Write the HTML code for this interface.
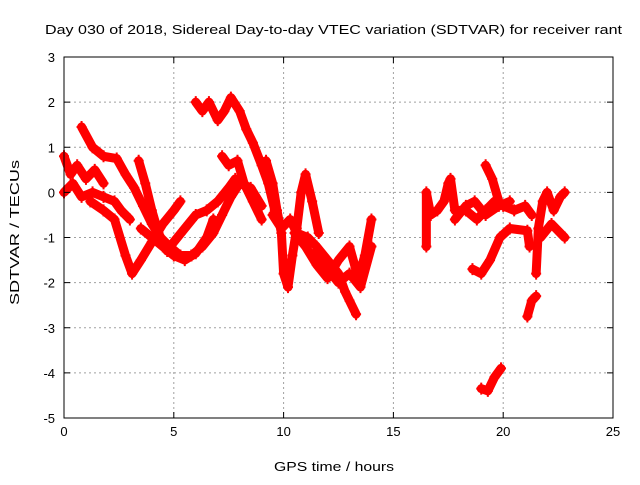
<!DOCTYPE html>
<html><head><meta charset="utf-8"><style>
body{margin:0;background:#fff}
svg text{font-family:"Liberation Sans",sans-serif;font-size:13px}
</style></head><body>
<svg id="chart" width="640" height="480" xmlns="http://www.w3.org/2000/svg">
<text x="45" y="34" font-size="15" textLength="577" lengthAdjust="spacingAndGlyphs">Day 030 of 2018, Sidereal Day-to-day VTEC variation (SDTVAR) for receiver rant</text>
<text x="274" y="471" font-size="15" textLength="120" lengthAdjust="spacingAndGlyphs">GPS time / hours</text>
<text transform="translate(19,305) rotate(-90)" font-size="15" textLength="145" lengthAdjust="spacingAndGlyphs">SDTVAR / TECUs</text>
<g id="grid"></g><g id="marks"></g><g id="axes"></g>
</svg>
<script>
const xTicks=[0,5,10,15,20,25];
const yTicks=[3,2,1,0,-1,-2,-3,-4,-5];
const trackA=[[0,0.8],[0.3,0.4],[0.6,0.6],[1,0.3],[1.4,0.5],[1.8,0.2]];
const trackA2=[[0,0],[0.4,0.2],[0.8,-0.1],[1.3,0],[1.8,-0.1],[2.3,-0.2],[2.6,-0.4],[3,-0.6]];
const trackB=[[0.8,1.45],[1.3,1.0],[1.8,0.8],[2.4,0.75],[2.8,0.4],[3.2,0.1],[3.6,-0.3],[4,-0.7],[4.4,-1.0],[4.8,-1.2],[5.3,-1.4],[5.8,-1.4],[6.3,-1.2],[6.8,-0.9],[7.2,-0.5],[7.6,-0.1],[8,0.2],[8.5,0.1],[9,-0.3]];
const trackC=[[1.2,-0.2],[1.8,-0.4],[2.3,-0.6],[2.8,-1.4],[3.1,-1.8],[3.5,-1.5],[4,-1.1],[4.5,-0.7],[5,-0.4],[5.3,-0.2]];
const trackD=[[3.4,0.7],[3.7,0.2],[4,-0.4],[4.3,-0.9],[4.7,-1.3],[5,-1.1],[5.5,-0.8],[6,-0.5],[6.5,-0.4],[7,-0.2],[7.5,0.1],[7.8,0.3],[8.2,0.2]];
const trackE=[[3.5,-0.8],[4,-1.0],[4.5,-1.2],[5,-1.4],[5.5,-1.5],[6,-1.35],[6.5,-1.0],[6.8,-0.6]];
const trackF=[[6.0,2.0],[6.3,1.8],[6.6,2.0],[7,1.6],[7.3,1.8],[7.6,2.1],[8,1.8],[8.3,1.4],[8.6,1.1],[9,0.6],[9.3,0.2],[9.6,-0.4]];
const trackG=[[7.2,0.8],[7.5,0.6],[7.9,0.7],[8.2,0.2],[8.6,-0.2],[9,-0.6]];
const trackH=[[9.2,0.7],[9.5,0.2],[9.7,-0.4],[9.9,-0.9],[10,-1.8],[10.2,-2.1],[10.4,-1.4],[10.6,-0.8],[10.8,0],[11,0.4],[11.3,-0.2],[11.6,-0.9]];
const trackI=[[9.5,-0.5],[9.9,-0.8],[10.3,-0.6],[10.6,-0.9],[11.1,-1.0],[11.5,-1.2],[12,-1.5],[12.5,-1.8],[12.8,-2.2],[13,-2.4],[13.3,-2.7]];
const trackJ=[[10.5,-0.9],[11,-1.2],[11.5,-1.6],[12,-1.9],[12.5,-1.5],[13,-1.2],[13.4,-1.9],[13.7,-1.4],[14,-0.6]];
const trackK=[[11.5,-1.3],[12,-1.7],[12.5,-2.0],[13,-1.8],[13.5,-2.1],[14,-1.2]];
const trackL=[[16.5,-1.2],[16.5,0],[16.7,-0.5],[17,-0.4],[17.3,-0.2],[17.5,0.2],[17.6,0.3],[17.8,-0.4],[18.3,-0.4],[18.8,-0.6],[19.2,-0.4],[19.6,-0.2],[20,-0.3],[20.5,-0.4],[21,-0.3],[21.3,-0.5]];
const trackM=[[17.8,-0.6],[18.3,-0.3],[18.7,-0.2],[19.2,-0.5],[19.8,-0.3],[20.3,-0.2]];
const trackN=[[19.2,0.6],[19.5,0.3],[19.8,-0.2]];
const trackO=[[18.6,-1.7],[19.0,-1.8],[19.4,-1.5],[19.85,-1.0],[20.3,-0.8],[21.1,-0.85],[21.2,-1.2]];
const trackP=[[21.5,-1.8],[21.6,-0.8],[21.8,-0.2],[22,0],[22.3,-0.4],[22.6,-0.1],[22.8,0]];
const trackQ=[[21.7,-1.0],[22.2,-0.7],[22.8,-1.0]];
const trackR=[[21.1,-2.75],[21.3,-2.4],[21.5,-2.3]];
const trackS=[[19,-4.35],[19.3,-4.4],[19.6,-4.1],[19.9,-3.9]];
const tracks=[trackA,trackA2,trackB,trackC,trackD,trackE,trackF,trackG,trackH,trackI,trackJ,trackK,trackL,trackM,trackN,trackO,trackP,trackQ,trackR,trackS];
const L=64,R=613,T=57,B=418,NS="http://www.w3.org/2000/svg";
const xs=v=>L+(v-0)/25*(R-L);
const ys=v=>T+(3-v)/8*(B-T);
function mk(t,a,p){const e=document.createElementNS(NS,t);for(const k in a)e.setAttribute(k,a[k]);p.appendChild(e);return e;}
const grid=document.getElementById('grid'),axes=document.getElementById('axes'),marks=document.getElementById('marks');
xTicks.forEach(v=>{const x=xs(v);
 if(v>0&&v<25){const g=mk('line',{x1:x,x2:x,y1:T,y2:B,stroke:'#a0a0a0','stroke-dasharray':'2,3'},grid);
 
 }
 mk('line',{x1:x,x2:x,y1:B,y2:B-6,stroke:'#000'},axes);mk('line',{x1:x,x2:x,y1:T,y2:T+6,stroke:'#000'},axes);
 const t=mk('text',{x:x,y:B+18,'text-anchor':'middle'},axes);t.textContent=v;
 
 });
yTicks.forEach(v=>{const y=ys(v);
 if(v>-5&&v<3){const g=mk('line',{x1:L,x2:R,y1:y,y2:y,stroke:'#a0a0a0','stroke-dasharray':'2,3'},grid);
 
 }
 mk('line',{x1:L,x2:L+6,y1:y,y2:y,stroke:'#000'},axes);mk('line',{x1:R,x2:R-6,y1:y,y2:y,stroke:'#000'},axes);
 const t=mk('text',{x:L-9,y:y+5,'text-anchor':'end'},axes);t.textContent=v;
 
 });
const fr=mk('rect',{x:L,y:T,width:R-L,height:B-T,fill:'none',stroke:'#000'},axes);


tracks.forEach(tr=>{
 const pl=mk('polyline',{points:tr.map(p=>xs(p[0])+','+ys(p[1])).join(' '),fill:'none',stroke:'#ff0000','stroke-width':9,'stroke-linejoin':'round','stroke-linecap':'round'},marks);
 
 
 tr.forEach(p=>{const x=xs(p[0]),y=ys(p[1]);
  const m=mk('path',{d:`M${x-5},${y}H${x+5}M${x},${y-6}V${y+6}`,stroke:'#ff0000','stroke-width':2},marks);
  
  });
});
</script>
</body></html>
